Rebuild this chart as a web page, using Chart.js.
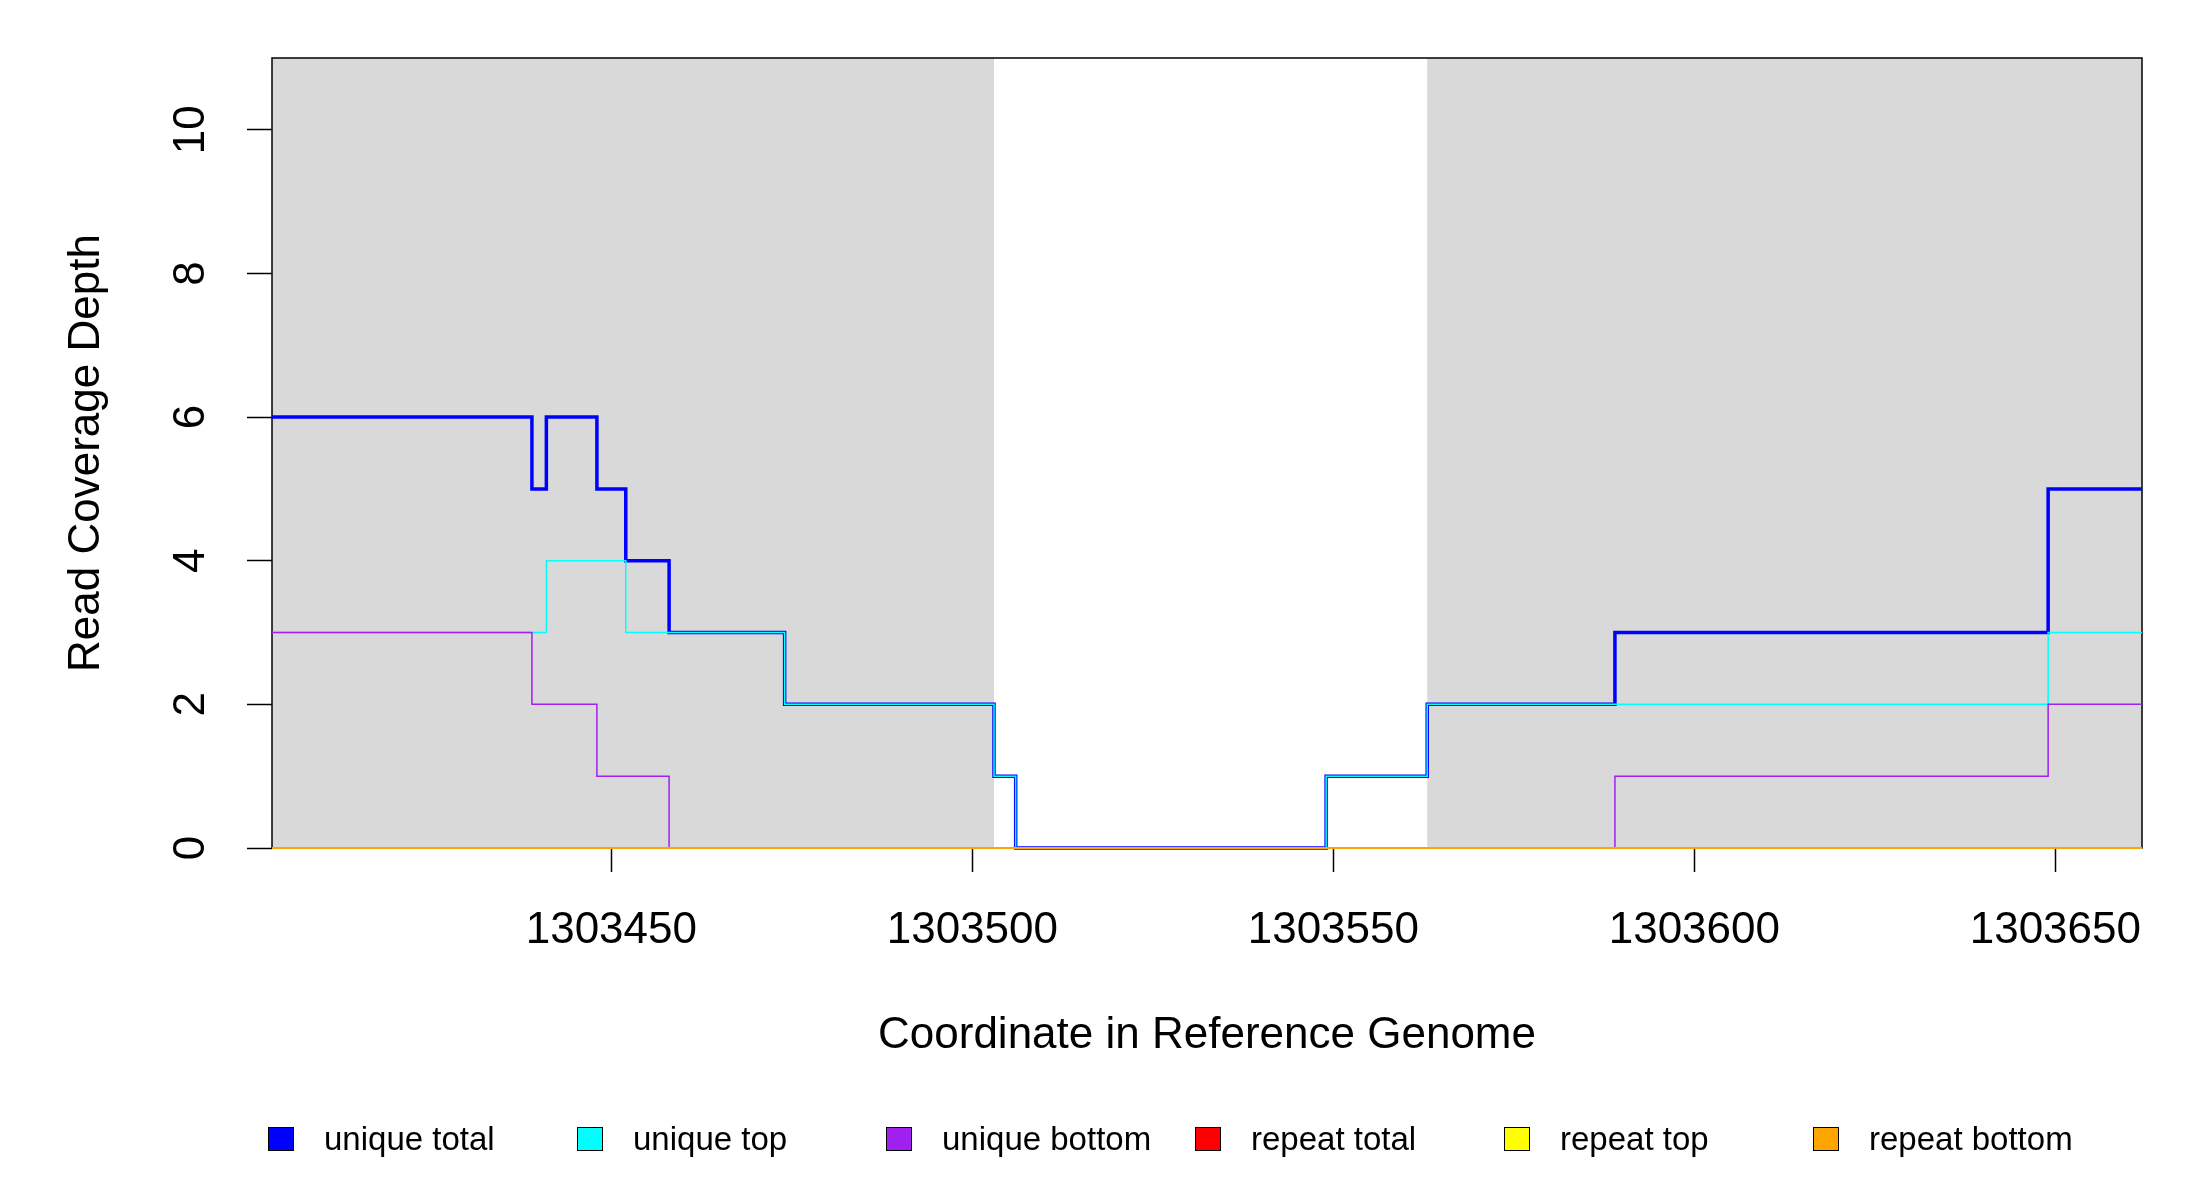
<!DOCTYPE html>
<html><head><meta charset="utf-8">
<script src="https://cdn.jsdelivr.net/npm/chart.js@4/dist/chart.umd.min.js"></script>
<style>
body{margin:0;background:#fff;font-family:"Liberation Sans",Arial,sans-serif}
#wrap{position:relative;width:2200px;height:1200px}
#legend{position:absolute;top:1120px;left:268px;display:flex}
.item{width:309px;display:flex;align-items:center;font-size:33px;color:#000}
.item i{display:inline-block;width:24px;height:22px;border:1.5px solid #000;margin-right:30px}
</style></head><body>
<div id="wrap"><canvas id="c" width="2200" height="1200"></canvas>
<div id="legend"></div></div>
<script>
const xMin = 1303403, xMax = 1303662;
const xTicks = [1303450, 1303500, 1303550, 1303600, 1303650];
const yTicks = [0, 2, 4, 6, 8, 10];
const shaded = [[1303403, 1303503], [1303563, 1303662]];

const totalX = [1303403, 1303439, 1303441, 1303448, 1303452, 1303458, 1303474, 1303503, 1303506, 1303549, 1303563, 1303589, 1303649, 1303662];
const totalY = [6, 5, 6, 5, 4, 3, 2, 1, 0, 1, 2, 3, 5, 5];
const topX = [1303403, 1303441, 1303452, 1303474, 1303503, 1303506, 1303549, 1303563, 1303649, 1303662];
const topY = [3, 4, 3, 2, 1, 0, 1, 2, 3, 3];
const bottomX = [1303403, 1303439, 1303448, 1303458, 1303589, 1303649, 1303662];
const bottomY = [3, 2, 1, 0, 1, 2, 2];
const repeatX = [1303403, 1303662];
const repeatTotal = [0, 0];
const repeatTop = [0, 0];
const repeatBottom = [0, 0];

const names = ["unique total", "unique top", "unique bottom", "repeat total", "repeat top", "repeat bottom"];
const colors = ["#0000ff", "#00ffff", "#a020f0", "#ff0000", "#ffff00", "#ffa500"];

function pts(xs, ys) { return xs.map((x, i) => ({x: x, y: ys[i]})); }
const series = [pts(totalX, totalY), pts(topX, topY), pts(bottomX, bottomY),
  pts(repeatX, repeatTotal), pts(repeatX, repeatTop), pts(repeatX, repeatBottom)];
const widths = [3.5, 1.5, 1.5, 1.5, 1.5, 2];

const deco = {
  id: "deco",
  beforeDatasetsDraw(ch) {
    const ctx = ch.ctx, a = ch.chartArea, xs = ch.scales.x;
    ctx.save();
    ctx.fillStyle = "#d9d9d9";
    shaded.forEach(r => {
      const l = xs.getPixelForValue(r[0]), rr = xs.getPixelForValue(r[1]);
      ctx.fillRect(l, a.top, rr - l, a.bottom - a.top);
    });
    ctx.strokeStyle = "#000"; ctx.lineWidth = 1.5;
    ctx.strokeRect(a.left, a.top, a.right - a.left, a.bottom - a.top);
    ctx.restore();
  },
  afterDraw(ch) {
    const ctx = ch.ctx, a = ch.chartArea, ys = ch.scales.y;
    ctx.save();
    ctx.fillStyle = "#000";
    ctx.font = "44px 'Liberation Sans'";
    ctx.textAlign = "center"; ctx.textBaseline = "middle";
    yTicks.forEach(v => {
      ctx.save();
      ctx.translate(192, ys.getPixelForValue(v));
      ctx.rotate(-Math.PI / 2);
      ctx.fillText(String(v), 0, 0);
      ctx.restore();
    });
    ctx.fillText("Coordinate in Reference Genome", (a.left + a.right) / 2, 1036);
    ctx.save();
    ctx.translate(87, (a.top + a.bottom) / 2);
    ctx.rotate(-Math.PI / 2);
    ctx.fillText("Read Coverage Depth", 0, 0);
    ctx.restore();
    ctx.restore();
  }
};

new Chart(document.getElementById("c"), {
  type: "line",
  data: {
    datasets: series.map((d, i) => ({
      label: names[i], data: d, borderColor: colors[i], borderWidth: widths[i],
      stepped: true, pointRadius: 0, fill: false, order: 6 - i, clip: 4
    }))
  },
  options: {
    responsive: false, animation: false,
    layout: {padding: {top: 58, right: 58, left: 0, bottom: 0}},
    plugins: {legend: {display: false}, tooltip: {enabled: false}},
    scales: {
      x: {
        type: "linear", min: xMin, max: xMax,
        afterBuildTicks: s => { s.ticks = xTicks.map(v => ({value: v})); },
        afterFit: s => { s.height = 352; },
        border: {display: false},
        grid: {drawOnChartArea: false, tickLength: 24, tickWidth: 1.5, tickColor: "#000"},
        ticks: {color: "#000", font: {size: 44, family: "Liberation Sans"}, padding: 32, maxRotation: 0,
          callback: v => String(v)}
      },
      y: {
        min: 0, max: 11,
        afterBuildTicks: s => { s.ticks = yTicks.map(v => ({value: v})); },
        afterFit: s => { s.width = 272; },
        border: {display: false},
        grid: {drawOnChartArea: false, tickLength: 25, tickWidth: 1.5, tickColor: "#000"},
        ticks: {color: "rgba(0,0,0,0)", font: {size: 31}}
      }
    }
  },
  plugins: [deco]
});

document.getElementById("legend").innerHTML = names.map((n, i) =>
  `<div class="item"><i style="background:${colors[i]}"></i>${n}</div>`).join("");
</script>
</body></html>
